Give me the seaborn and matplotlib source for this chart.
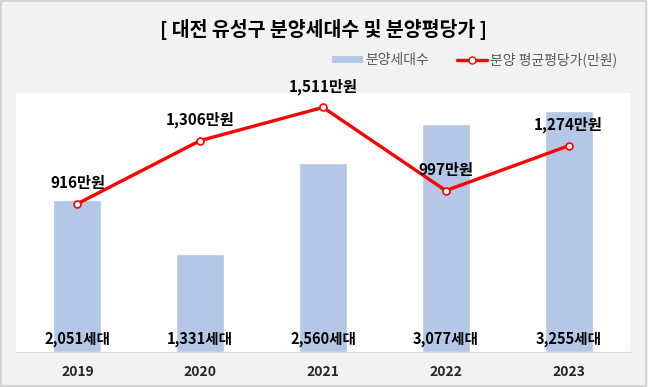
import numpy as np
import pandas as pd
import matplotlib
matplotlib.use("Agg")
import matplotlib.pyplot as plt
from matplotlib.patches import Patch, Rectangle
from matplotlib.lines import Line2D
import seaborn as sns

years = ["2019", "2020", "2021", "2022", "2023"]
units = [2051, 1331, 2560, 3077, 3255]          # 분양세대수
price = [916, 1306, 1511, 997, 1274]            # 분양 평균평당가(만원)

bar_color = "#B4C7E7"
line_color = "#FF0000"

sns.set_style("white")
plt.rcParams['font.family'] = ['Noto Sans CJK KR', 'DejaVu Sans']

df = pd.DataFrame({"year": years, "units": units, "price": price})

fig = plt.figure(figsize=(6.48, 3.87), dpi=100)
fig.patch.set_facecolor("#F2F2F2")
fig.patches.append(Rectangle((0.002, 0.003), 0.995, 0.994, transform=fig.transFigure,
                             fill=False, edgecolor="#CFCFCF", linewidth=1.2))

ax = fig.add_axes([0.0247, 0.0904, 0.9475, 0.6693])
ax.set_facecolor("white")

sns.barplot(data=df, x="year", y="units", color=bar_color, width=0.39,
            saturation=1, ax=ax)
ax.set_xlim(-0.5, 4.5)
ax.set_ylim(0, 3500)
ax.set_yticks([])
ax.set_xlabel("")
ax.set_ylabel("")
for s in ["top", "left", "right"]:
    ax.spines[s].set_visible(False)
ax.spines["bottom"].set_color("#D9D9D9")
ax.tick_params(axis="x", length=0, pad=9)
for lbl in ax.get_xticklabels():
    lbl.set_fontweight("bold")
    lbl.set_fontsize(10)

for i, v in enumerate(units):
    ax.text(i, 180, f"{v:,}세대", ha="center", va="center",
            fontsize=10.5, fontweight="bold", color="black")

ax2 = ax.twinx()
xpos = np.arange(len(years))
sns.lineplot(x=xpos, y=price, color=line_color, linewidth=2.4, marker="o",
             markersize=5, markerfacecolor="white", markeredgecolor=line_color,
             markeredgewidth=1.2, ax=ax2)
ax2.set_ylim(0, 1600)
ax2.set_yticks([])
for s in ["top", "left", "right", "bottom"]:
    ax2.spines[s].set_visible(False)
for i, v in enumerate(price):
    ax2.text(i, v + 130, f"{v:,}만원", ha="center", va="center",
             fontsize=11, fontweight="bold", color="black", clip_on=False)

fig.text(0.5, 0.925, "[ 대전 유성구 분양세대수 및 분양평당가 ]", ha="center", va="center",
         fontsize=14, fontweight="bold", color="black")

handles = [Patch(facecolor=bar_color, edgecolor="none"),
           Line2D([0], [0], color=line_color, linewidth=2.4, marker="o",
                  markersize=5, markerfacecolor="white", markeredgecolor=line_color)]
leg = fig.legend(handles, ["분양세대수", "분양 평균평당가(만원)"], ncol=2,
                 loc="center right", bbox_to_anchor=(0.972, 0.845), frameon=False,
                 fontsize=10, handlelength=2.2, handleheight=0.5, columnspacing=2.0,
                 handletextpad=0.2)
for t in leg.get_texts():
    t.set_color("#595959")
    t.set_fontweight("medium")

fig.savefig("out.png", dpi=100, facecolor=fig.get_facecolor())
